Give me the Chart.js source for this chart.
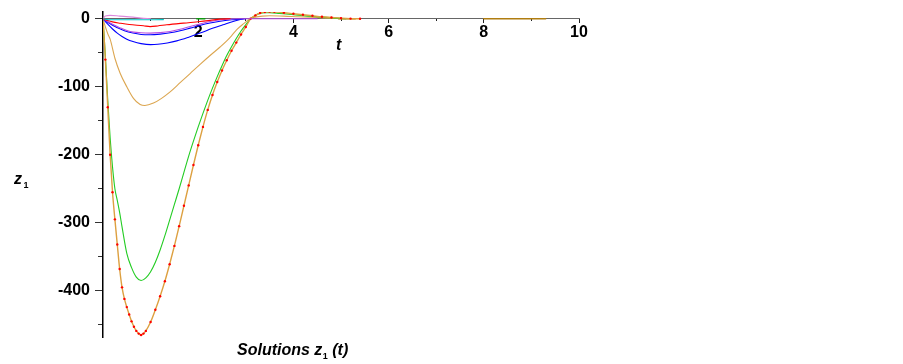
<!DOCTYPE html>
<html><head><meta charset="utf-8">
<script src="https://cdn.jsdelivr.net/npm/chart.js@4.4.1/dist/chart.umd.min.js"></script>
<style>html,body{margin:0;padding:0;background:#fff;}canvas{display:block}</style>
</head><body>
<canvas id="c" width="903" height="364"></canvas>
<script>
// ---- tick labels ----
const xTickLabels = [2, 4, 6, 8, 10];
const yTickLabels = [0, -100, -200, -300, -400];

// ---- series (t values and z1 values) ----
const tBig = [0,0.05,0.1,0.15,0.2,0.25,0.3,0.35,0.4,0.45,0.5,0.55,0.6,0.65,0.7,0.75,0.8,0.85,0.9,1.0,1.1,1.2,1.3,1.4,1.5,1.6,1.7,1.8,1.9,2.0,2.1,2.2,2.3,2.4,2.5,2.6,2.7,2.8,2.9,3.0,3.1,3.2,3.3,3.4,3.5,3.6,3.8,4.0,4.2,4.4,4.6,4.8,5.0,5.2,5.4];
const zBig = [0,-60,-130,-200,-255,-295,-332,-368,-395,-412,-424,-435,-445,-453,-459,-463,-465,-463,-459,-446,-428,-408,-386,-361,-334,-305,-275,-245,-215,-186,-159,-134,-112,-93,-76,-61,-47,-35,-23,-12,0,5,8.5,10,10.5,10.2,9,7.5,6,4.5,3,2,1,0.3,0];

const tGreen = [0,0.05,0.1,0.15,0.2,0.25,0.3,0.35,0.4,0.5,0.6,0.7,0.8,0.9,1.0,1.1,1.2,1.3,1.4,1.5,1.6,1.7,1.8,1.9,2.0,2.1,2.2,2.3,2.4,2.5,2.6,2.7,2.8,2.9,3.0,3.1,3.2,3.3,3.4,3.5,3.7,4.0,4.3,4.6,4.9,5.1];
const zGreen = [0,-55,-120,-175,-218,-250,-267,-285,-306,-345,-366,-380,-385,-381,-372,-358,-340,-319,-296,-273,-250,-226,-202,-180,-159,-139,-120,-102,-85,-69,-54,-41,-29,-18,-8.5,0,5,8,9,9,8,6,4,2.5,1,0];

const tGold = [0,0.05,0.1,0.15,0.25,0.36,0.5,0.64,0.78,0.88,1.06,1.23,1.41,1.62,1.83,2.04,2.25,2.46,2.6,2.7,2.81,2.95,3.09,3.2,3.35,3.5,3.8,4.1,4.5,4.9,5.3];
const zGold = [0,-12,-22,-30,-58,-80,-100,-117,-126,-127.5,-124,-117,-107.5,-94,-80.5,-67,-54,-41.5,-32.5,-25,-16,-7.5,0,2.5,4,4.5,4,3,1.8,0.6,0];

const tBlueLow = [0,0.1,0.2,0.3,0.4,0.5,0.63,0.8,1.0,1.15,1.35,1.55,1.8,2.04,2.3,2.52,2.75,2.95];
const zBlueLow = [0,-8,-15,-21,-26,-30,-33.5,-36.5,-38,-37.5,-35.5,-32.5,-27,-21,-14,-8.8,-3.5,0];

const tBlueUp = [0,0.1,0.2,0.3,0.45,0.63,0.8,0.99,1.2,1.41,1.62,1.83,2.05,2.25,2.46,2.7,3.0];
const zBlueUp = [0,-5,-9.5,-13,-17.5,-21,-23,-23.5,-22.5,-20.5,-17.5,-13.7,-9.5,-6.3,-3.5,-1.5,0];

const tViolet = [0,0.1,0.2,0.35,0.57,0.8,0.99,1.2,1.41,1.62,1.83,2.05,2.25,2.5,2.8,3.2,4.5];
const zViolet = [0,-4,-8,-13,-18.7,-20.5,-21,-20.3,-18.7,-15.5,-11.3,-7.5,-4,-1.5,0,0,0];

const tRedSmall = [0,0.1,0.2,0.36,0.55,0.85,0.99,1.15,1.34,1.69,2.04,2.25,2.46,2.67];
const zRedSmall = [0,-2.5,-4.5,-6.5,-8.5,-10.3,-11.5,-10.5,-8.8,-6.3,-4,-2.3,-0.5,0];

const tPlum = [0,0.05,0.15,0.35,0.63,0.8,1.0];
const zPlum = [0,4,5,4,2.5,1,0];

const tCyan = [0,0.15,0.7,1.27];
const zCyan = [0,-1.5,-1.5,-1.2];

const tDarkGold = [4.95,5.3,6,8.0,9.3];
const zDarkGold = [0,0,null,0,0];

const tAxisGreen = [1.97,2.14];
const zAxisGreen = [0,0];

function pts(t, z) { return t.map((v, i) => ({x: v, y: z[i]})); }

function line(label, t, z, color, extra) {
  return Object.assign({
    label, data: pts(t, z), borderColor: color, backgroundColor: color,
    borderWidth: 1.1, pointRadius: 0, fill: false,
    cubicInterpolationMode: 'monotone', spanGaps: false
  }, extra || {});
}

const datasets = [
  line('cyan', tCyan, zCyan, '#00c8c8'),
  line('red small', tRedSmall, zRedSmall, '#ff0000'),
  line('violet', tViolet, zViolet, '#b84fe0'),
  line('blue upper', tBlueUp, zBlueUp, '#0000ff'),
  line('blue lower', tBlueLow, zBlueLow, '#0000ff'),
  line('plum', tPlum, zPlum, '#dd88dd'),
  line('big', tBig, zBig, '#dda040', {borderWidth: 1.4, pointRadius: 1.2, pointBackgroundColor: '#ff0000', pointBorderWidth: 0, pointBorderColor: '#ff0000'}),
  line('green', tGreen, zGreen, '#22cc22'),
  line('gold', tGold, zGold, '#dca650'),
  line('dark gold', tDarkGold, zDarkGold, '#b07d10', {borderWidth: 1.5}),
  line('axis green', tAxisGreen, zAxisGreen, '#119911', {borderWidth: 1.5})
];

function zeroPad(s) { s.paddingTop = 0; s.paddingBottom = 0; s.paddingLeft = 0; s.paddingRight = 0; }

const labelFont = {family: 'Liberation Sans', size: 16, weight: 'bold'};

const textPlugin = {
  id: 'texts',
  afterDraw(chart) {
    const ctx = chart.ctx;
    ctx.save();
    ctx.fillStyle = '#000';
    ctx.textBaseline = 'alphabetic';
    ctx.textAlign = 'left';
    const big = 'italic bold 16px "Liberation Sans"';
    const sub = 'bold 9px "Liberation Sans"';
    ctx.font = big;
    ctx.fillText('t', 336, 50);
    ctx.fillText('z', 14, 183.5);
    ctx.font = sub;
    ctx.fillText('1', 23.5, 187.5);
    ctx.font = big;
    let x = 237;
    const a = 'Solutions z';
    ctx.fillText(a, x, 355);
    x += ctx.measureText(a).width + 0.5;
    ctx.font = sub;
    ctx.fillText('1', x, 359);
    x += ctx.measureText('1').width;
    ctx.font = big;
    ctx.fillText(' (t)', x, 355);
    ctx.restore();
  }
};

new Chart(document.getElementById('c'), {
  type: 'line',
  data: { datasets },
  options: {
    responsive: false,
    animation: false,
    devicePixelRatio: 1,
    layout: { padding: {left: 0, top: 12, right: 324, bottom: 27} },
    plugins: { legend: {display: false}, tooltip: {enabled: false}, title: {display: false} },
    elements: { line: {borderCapStyle: 'round'} },
    scales: {
      x: {
        type: 'linear', min: 0, max: 10,
        position: {y: 0},
        border: {display: true, color: '#666', width: 1},
        grid: {drawOnChartArea: false, drawTicks: true, tickLength: 2, tickColor: '#222', tickWidth: 1},
        ticks: {stepSize: 1, padding: 2, color: '#000', font: labelFont, maxRotation: 0, autoSkip: false,
          callback: v => xTickLabels.includes(v) ? String(v) : ''},
        afterFit: zeroPad
      },
      x2: {
        type: 'linear', axis: 'x', min: 0, max: 10,
        position: {y: 0},
        border: {display: false},
        grid: {drawOnChartArea: false, drawTicks: true, tickLength: 4, tickColor: '#222', tickWidth: 1},
        ticks: {display: false, stepSize: 2},
        afterFit: zeroPad
      },
      y: {
        type: 'linear', min: -468, max: 10,
        position: 'left',
        border: {display: true, color: '#000', width: 1.5},
        grid: {drawOnChartArea: false, drawTicks: true, tickLength: 5, tickColor: '#333', tickWidth: 1},
        ticks: {stepSize: 50, includeBounds: false, padding: 8, color: '#000', font: labelFont, autoSkip: false,
          callback: v => yTickLabels.includes(v) ? String(v) : ''},
        afterFit: s => { s.width = 103; zeroPad(s); }
      },
      y2: {
        type: 'linear', axis: 'y', min: -468, max: 10,
        position: {x: 0},
        border: {display: false},
        grid: {drawOnChartArea: false, drawTicks: true, tickLength: 8, tickColor: '#333', tickWidth: 1},
        ticks: {display: false, stepSize: 100, includeBounds: false},
        afterFit: zeroPad
      }
    }
  },
  plugins: [textPlugin]
});
</script>
</body></html>
